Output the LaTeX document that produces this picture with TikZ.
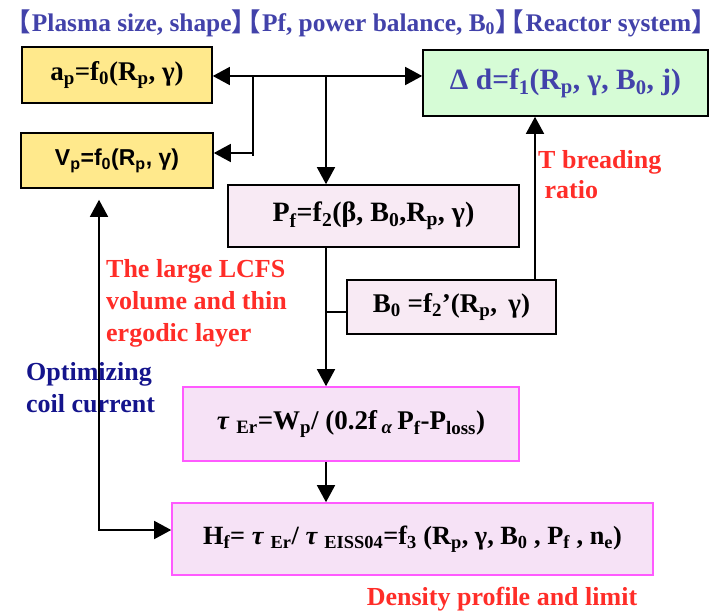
\documentclass[tikz,border=0pt]{standalone}
\usepackage{fontspec}
\setmainfont{Liberation Serif}
\newfontfamily\cjk{Noto Sans CJK SC}
\newfontfamily\arialf{Liberation Sans}
\usetikzlibrary{arrows.meta}
\definecolor{ttl}{RGB}{66,66,170}
\definecolor{yel}{RGB}{255,233,140}
\definecolor{grn}{RGB}{214,252,214}
\definecolor{pnk}{RGB}{248,234,244}
\definecolor{mgf}{RGB}{246,226,246}
\definecolor{mgb}{RGB}{255,90,255}
\definecolor{rtx}{RGB}{255,45,40}
\definecolor{dbl}{RGB}{20,20,140}
\newcommand{\sbs}[1]{\textsubscript{#1}}
\newcommand{\lbr}{{\cjk 【}}
\newcommand{\rbr}{{\cjk 】}}
\tikzset{
  box/.style={draw=black, line width=1.6pt, inner sep=0pt, align=center,
    font=\bfseries\fontsize{27}{30}\selectfont},
  ybox/.style={box, fill=yel},
  gbox/.style={box, fill=grn, text=ttl, font=\bfseries\fontsize{29.5}{32}\selectfont},
  pbox/.style={box, fill=pnk},
  mbox/.style={box, draw=mgb, fill=mgf},
  lbl/.style={font=\bfseries\fontsize{26}{32}\selectfont, align=left, inner sep=0pt},
  tip/.tip={Triangle[length=17pt,width=18pt]},
  wire/.style={line width=1.5pt},
  conn/.style={wire, -tip},
  conn2/.style={wire, tip-tip}
}
\begin{document}
\begin{tikzpicture}[x=1pt,y=-1pt]
\useasboundingbox (0,0) rectangle (716,615);
\node[font=\bfseries\fontsize{25.4}{30}\selectfont, text=ttl, inner sep=0pt] (title) at (361,23)
  {\lbr\kern0.05em Plasma size, shape\rbr\kern-0.85em\lbr\kern0.05em Pf, power balance, B\sbs{0}\rbr\kern-0.85em\lbr\kern0.05em Reactor system\rbr};
\node[ybox, minimum width=190pt, minimum height=56pt] (ap) at (117,75)
  {a\sbs{p}=f\sbs{0}(R\sbs{p}, γ)};
\node[gbox, minimum width=285pt, minimum height=66pt] (dd) at (565.5,83)
  {Δ d=f\sbs{1}(R\sbs{p}, γ, B\sbs{0}, j)};
\node[ybox, minimum width=192pt, minimum height=55pt, font=\arialf\bfseries\fontsize{23}{26}\selectfont] (vp) at (117,160.5)
  {V\sbs{p}=f\sbs{0}(R\sbs{p}, γ)};
\node[pbox, minimum width=291pt, minimum height=62pt, font=\bfseries\fontsize{28}{30}\selectfont] (pf) at (373.5,216)
  {P\sbs{f}=f\sbs{2}(β, B\sbs{0},R\sbs{p}, γ)};
\node[pbox, minimum width=209pt, minimum height=54pt] (b0) at (451.5,307)
  {B\sbs{0} =f\sbs{2}’(R\sbs{p},\, γ)};
\node[mbox, minimum width=336pt, minimum height=74pt] (tau) at (351,424)
  {\textit{τ} \sbs{Er}=W\sbs{p}/ (0.2f\,\sbs{\textit{α}}\,P\sbs{f}-P\sbs{loss})};
\node[mbox, minimum width=481pt, minimum height=72pt, font=\bfseries\fontsize{26.3}{30}\selectfont] (hf) at (412.5,539)
  {H\sbs{f}= \textit{τ} \sbs{Er}/ \textit{τ} \sbs{EISS04}=f\sbs{3} (R\sbs{p}, γ, B\sbs{0} , P\sbs{f} , n\sbs{e})};

\node[lbl, text=rtx, anchor=north west] (lcfs) at (106,259)
  {The large LCFS\\volume and thin\\ergodic layer};
\node[lbl, text=dbl, anchor=north west] (opt) at (26,362)
  {Optimizing\\coil current};
\node[lbl, text=rtx, anchor=north west, font=\bfseries\fontsize{26}{30}\selectfont] (tbr) at (538,150)
  {T breading\\\ ratio};
\node[lbl, text=rtx] (dens) at (502,599) {Density profile and limit};

\coordinate (j1) at (253,76);
\coordinate (j1b) at (253,156);
\coordinate (j2) at (326,76);
\coordinate (j3) at (326,312);
\coordinate (k) at (535,0);
\coordinate (l1) at (99,530);

\draw[conn2] (ap.east |- j1) -- (j1 -| dd.west);
\draw[wire] (j1) -- (j1b);
\draw[conn] (253,153) -- (vp.east |- 0,153);
\draw[conn] (j2) -- (j2 |- pf.north);
\draw[conn] (j2 |- pf.south) -- (j2 |- tau.north);
\draw[wire] (b0.west |- j3) -- (j3);
\draw[conn] (k |- b0.north) -- (k |- dd.south);
\draw[conn] (j2 |- tau.south) -- (j2 |- hf.north);
\draw[conn2, shorten <=11pt] (l1 |- vp.south) -- (l1) -- (l1 -| hf.west);
\end{tikzpicture}
\end{document}
